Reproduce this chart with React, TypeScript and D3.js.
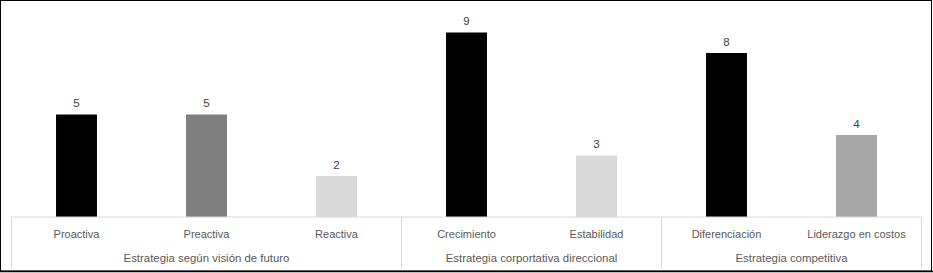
import React from "react";
import * as d3 from "d3";

const categories = ["Proactiva", "Preactiva", "Reactiva", "Crecimiento", "Estabilidad", "Diferenciación", "Liderazgo en costos"];
const values = [5, 5, 2, 9, 3, 8, 4];
const barColors = ["#000000", "#7f7f7f", "#d9d9d9", "#000000", "#d9d9d9", "#000000", "#a6a6a6"];
const groups = ["Estrategia según visión de futuro", "Estrategia corportativa direccional", "Estrategia competitiva"];
const groupSizes = [3, 2, 2];

const W = 933, H = 273;
const left = 11.5, right = 921.5, baseline = 217;
const font = "'Liberation Sans', Arial, sans-serif";

export default function App() {
  const x = d3.scaleBand<number>().domain(d3.range(categories.length)).range([left, right]).paddingInner(0.685).paddingOuter(0.3425);
  const y = d3.scaleLinear().domain([0, 9]).range([baseline, 32.5]);
  const step = x.step();
  const groupStarts: number[] = [];
  let acc = 0;
  groupSizes.forEach((s) => { groupStarts.push(acc); acc += s; });
  const sepXs = [...groupStarts, categories.length].map((i) => left + i * step);

  return (
    <svg width={W} height={H} style={{ position: "absolute", left: 0, top: 0 }} xmlns="http://www.w3.org/2000/svg">
      <rect x={0} y={0} width={W} height={H} fill="#fff" />
      {values.map((v, i) => (
        <g key={i}>
          <rect x={x(i)} y={y(v)} width={x.bandwidth()} height={baseline - y(v)} fill={barColors[i]} />
          <text x={(x(i) as number) + x.bandwidth() / 2} y={y(v) - 7.5} textAnchor="middle" fontFamily={font} fontSize={11.5} fill="#404040">{v}</text>
          <text x={(x(i) as number) + x.bandwidth() / 2} y={238} textAnchor="middle" fontFamily={font} fontSize={11} fill="#595959">{categories[i]}</text>
        </g>
      ))}
      <line x1={left} x2={right} y1={baseline} y2={baseline} stroke="#d9d9d9" strokeWidth={1} />
      {sepXs.map((sx, i) => (
        <line key={i} x1={sx} x2={sx} y1={baseline} y2={268} stroke="#d9d9d9" strokeWidth={1} />
      ))}
      {groups.map((g, i) => {
        const cx = (sepXs[i] + sepXs[i + 1]) / 2;
        return <text key={g} x={cx} y={262} textAnchor="middle" fontFamily={font} fontSize={11.4} fill="#595959">{g}</text>;
      })}
      <rect x={0.5} y={0.5} width={931} height={270.5} fill="none" stroke="#000" strokeWidth={1} />
      <line x1={0} x2={933} y1={271.5} y2={271.5} stroke="#000" strokeWidth={1.5} />
    </svg>
  );
}
